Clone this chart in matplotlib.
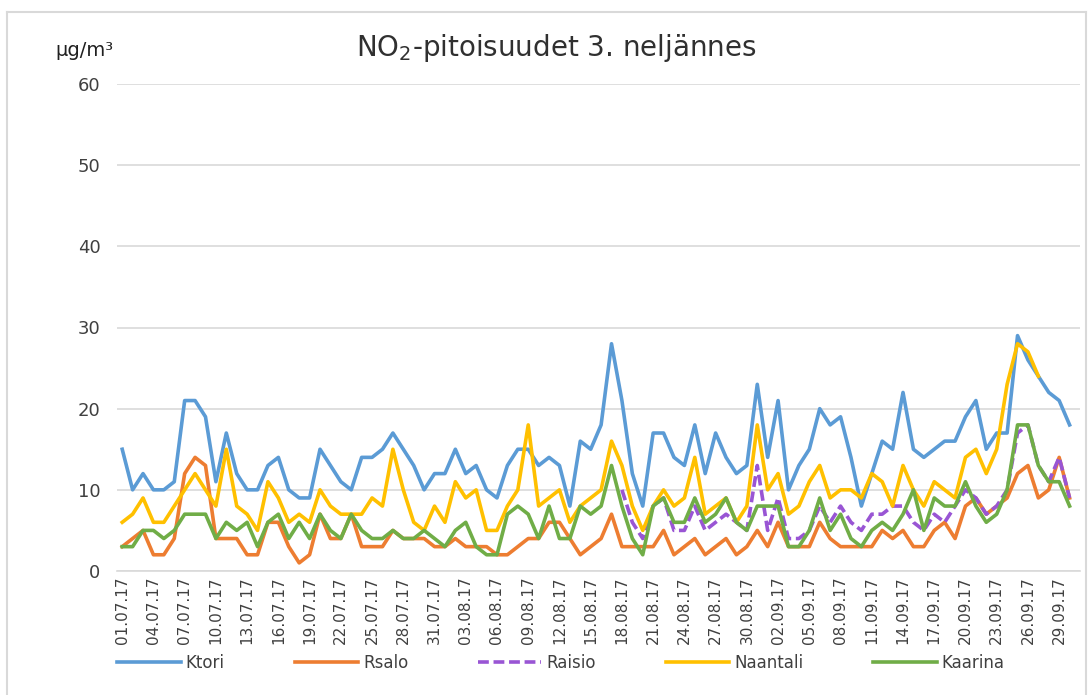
import numpy as np
import pandas as pd
import matplotlib
matplotlib.use('Agg')
import matplotlib.pyplot as plt
from matplotlib.lines import Line2D

# päivät 01.07.17 - 30.09.17
dates = pd.date_range('2017-07-01', '2017-09-30', freq='D')
day_labels = list(dates.strftime('%d.%m.%y'))

nan = np.nan
ktori = [15, 10, 12, 10, 10, 11, 21, 21, 19, 11, 17, 12, 10, 10, 13, 14,
         10, 9, 9, 15, 13, 11, 10, 14, 14, 15, 17, 15, 13, 10, 12,
         12, 15, 12, 13, 10, 9, 13, 15, 15, 13, 14, 13, 8, 16, 15,
         18, 28, 21, 12, 8, 17, 17, 14, 13, 18, 12, 17, 14, 12, 13,
         23, 14, 21, 10, 13, 15, 20, 18, 19, 14,
         8, 12, 16, 15, 22, 15, 14, 15, 16, 16, 19, 21, 15, 17, 17, 29, 26, 24, 22, 21, 18]
rsalo = [3, 4, 5, 2, 2, 4, 12, 14, 13, 4, 4, 4, 2, 2, 6, 6,
         3, 1, 2, 7, 4, 4, 7, 3, 3, 3, 5, 4, 4, 4, 3,
         3, 4, 3, 3, 3, 2, 2, 3, 4, 4, 6, 6, 4, 2, 3,
         4, 7, 3, 3, 3, 3, 5, 2, 3, 4, 2, 3, 4, 2, 3,
         5, 3, 6, 3, 3, 3, 6, 4, 3, 3,
         3, 3, 5, 4, 5, 3, 3, 5, 6, 4, 8, 9, 7, 8, 9, 12, 13, 9, 10, 14, 9]
raisio = [nan] * 48 + [10, 6, 4, 8, 9, 5, 5, 8, 5, 6, 7, 6, 5,
                       13, 5, 9, 4, 4, 5,
                       8, 6, 8, 6, 5, 7, 7, 8, 8, 6, 5, 7, 6, 8, 10, 9, 7, 8, 10, 17, 18, 13, 11, 14, 9]
naantali = [6, 7, 9, 6, 6, 8, 10, 12, 10, 8, 15, 8, 7, 5, 11, 9,
            6, 7, 6, 10, 8, 7, 7, 7, 9, 8, 15, 10, 6, 5, 8,
            6, 11, 9, 10, 5, 5, 8, 10, 18, 8, 9, 10, 6, 8, 9,
            10, 16, 13, 8, 5, 8, 10, 8, 9, 14, 7, 8, 9, 6, 8,
            18, 10, 12, 7, 8, 11, 13, 9, 10, 10,
            9, 12, 11, 8, 13, 10, 8, 11, 10, 9, 14, 15, 12, 15, 23, 28, 27, 24, nan, nan, nan]
kaarina = [3, 3, 5, 5, 4, 5, 7, 7, 7, 4, 6, 5, 6, 3, 6, 7,
           4, 6, 4, 7, 5, 4, 7, 5, 4, 4, 5, 4, 4, 5, 4,
           3, 5, 6, 3, 2, 2, 7, 8, 7, 4, 8, 4, 4, 8, 7,
           8, 13, 8, 4, 2, 8, 9, 6, 6, 9, 6, 7, 9, 6, 5,
           8, 8, 8, 3, 3, 5,
           9, 5, 7, 4, 3, 5, 6, 5, 7, 10, 5, 9, 8, 8, 11, 8, 6, 7, 10, 18, 18, 13, 11, 11, 8]

series = [('Ktori', ktori, '#5B9BD5', '-'),
          ('Rsalo', rsalo, '#ED7D31', '-'),
          ('Raisio', raisio, '#9955D4', '--'),
          ('Naantali', naantali, '#FFC000', '-'),
          ('Kaarina', kaarina, '#70AD47', '-')]

fig = plt.figure(figsize=(10.92, 6.95), dpi=100)
ax = fig.add_axes([117 / 1092, 1 - 571 / 695, 963 / 1092, 487 / 695])

x = np.arange(len(day_labels))
handles = []
for name, vals, col, ls in series:
    ln, = ax.plot(x, vals, color=col, linestyle=ls, lw=2.6,
                  dashes=(3, 1.3) if ls == '--' else (None, None),
                  solid_joinstyle='round', label=name)
    handles.append(ln)

ax.set_ylim(0, 60)
ax.set_xlim(-0.5, 92)
ax.set_yticks(range(0, 61, 10))
ax.set_xticks(x[::3])
ax.set_xticklabels(day_labels[::3], rotation=90)
ax.tick_params(axis='x', labelsize=11, colors='#404040', length=0, pad=4)
ax.tick_params(axis='y', labelsize=13, colors='#404040', length=0, pad=12)
ax.grid(axis='y', color='#D9D9D9', lw=1.2)
ax.set_axisbelow(True)
for s in ['top', 'right', 'left']:
    ax.spines[s].set_visible(False)
ax.spines['bottom'].set_color('#D9D9D9')
ax.spines['bottom'].set_linewidth(1.2)

fig.text(556 / 1092, 1 - 48 / 695, 'NO$_2$-pitoisuudet 3. neljännes',
         ha='center', va='center', fontsize=20, color='#303030')
fig.text(55 / 1092, 1 - 50 / 695, 'μg/m³', ha='left', va='center',
         fontsize=14, color='#202020')

fig.legend(handles=handles, loc='center', bbox_to_anchor=(561 / 1092, 1 - 663 / 695),
           ncol=5, frameon=False, fontsize=12, handlelength=3.8,
           columnspacing=4.2, handletextpad=0.3, labelcolor='#404040')

# kehys
bc = '#D9D9D9'
fig.add_artist(Line2D([7 / 1092, 7 / 1092], [0, 1 - 12 / 695], color=bc, lw=1.5))
fig.add_artist(Line2D([7 / 1092, 1086 / 1092], [1 - 12 / 695, 1 - 12 / 695], color=bc, lw=1.5))
fig.add_artist(Line2D([1086 / 1092, 1086 / 1092], [0, 1 - 12 / 695], color=bc, lw=1.5))

fig.savefig('out.png', dpi=100)
